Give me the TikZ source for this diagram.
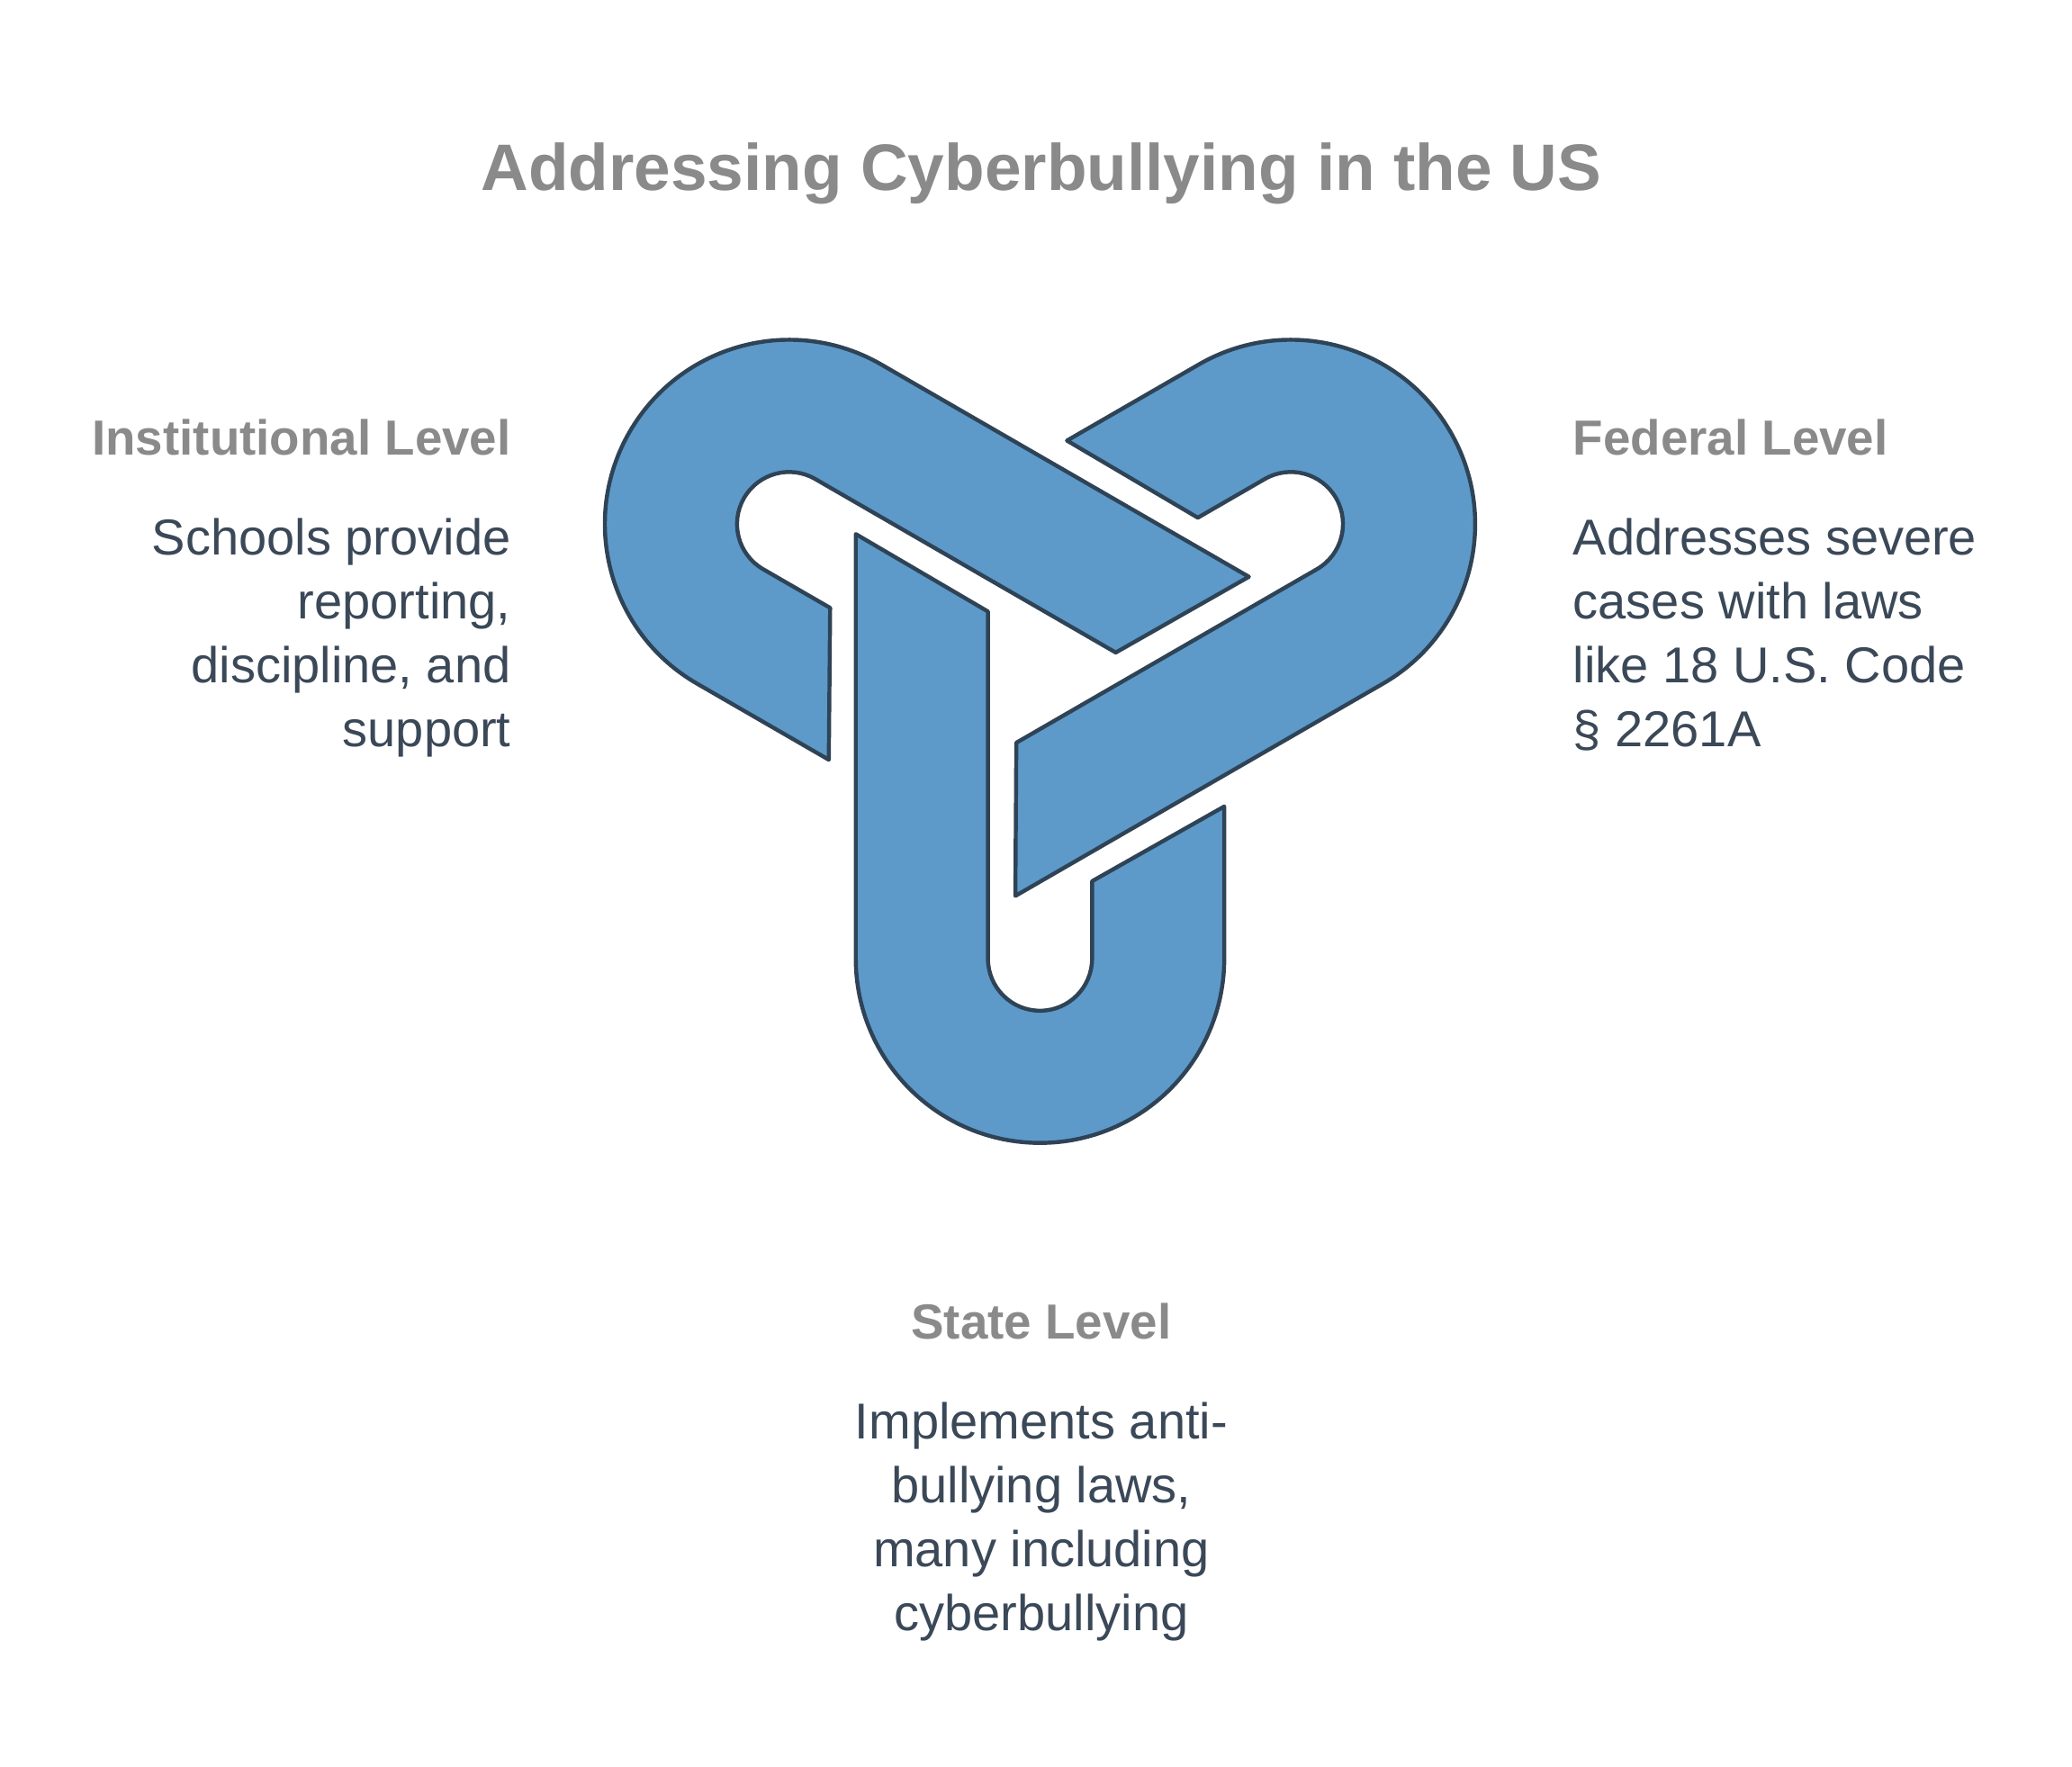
\documentclass[tikz,border=0pt]{standalone}
\usepackage{fontspec}
\setmainfont{Liberation Sans}
\definecolor{bandfill}{HTML}{5D9AC9}
\definecolor{bandline}{HTML}{2F4356}
\definecolor{headgray}{HTML}{8A8A8A}
\definecolor{bodytext}{HTML}{3A4858}
\tikzset{
band/.style    = {fill=bandfill, draw=bandline, line width=0.06cm, line join=round},
headline/.style= {font=\fontsize{21}{26}\selectfont\bfseries, text=headgray, inner sep=0pt},
bodyline/.style= {font=\fontsize{21.5}{27.2}\selectfont, text=bodytext, inner sep=0pt}
}
\newcommand{\bandpiece}{(-138,101) -- (-138,-217) arc (180:360:138) -- (138,-103)
  -- (39,-159) -- (39,-217) arc (0:-180:39) -- (-39,43) -- cycle}

\begin{document}
\begin{tikzpicture}[x=0.02cm, y=0.02cm]
\useasboundingbox (0,0) rectangle (1552,-1323);

\node[headline, font=\fontsize{28}{34}\selectfont\bfseries] (title) at (780,-130) {Addressing Cyberbullying in the US};

% three interlocked bands around the centre
\begin{scope}[shift={(779,-501)}]
\foreach \ang in {0,120,240} {
    \draw[band, rotate=\ang] \bandpiece;
}
\end{scope}

\node[headline, anchor=north east] (insthead) at (383,-314) {Institutional Level};
\node[bodyline, anchor=north east, align=right] (instbody) at (383,-388)
    {Schools provide\\reporting,\\discipline, and\\support};

\node[headline, anchor=north west] (fedhead) at (1178,-314) {Federal Level};
\node[bodyline, anchor=north west, align=left] (fedbody) at (1178,-388)
    {Addresses severe\\cases with laws\\like 18 U.S. Code\\§ 2261A};

\node[headline, anchor=north] (statehead) at (780,-976) {State Level};
\node[bodyline, anchor=north, align=center] (statebody) at (780,-1050)
    {Implements anti-\\bullying laws,\\many including\\cyberbullying};
\end{tikzpicture}
\end{document}
